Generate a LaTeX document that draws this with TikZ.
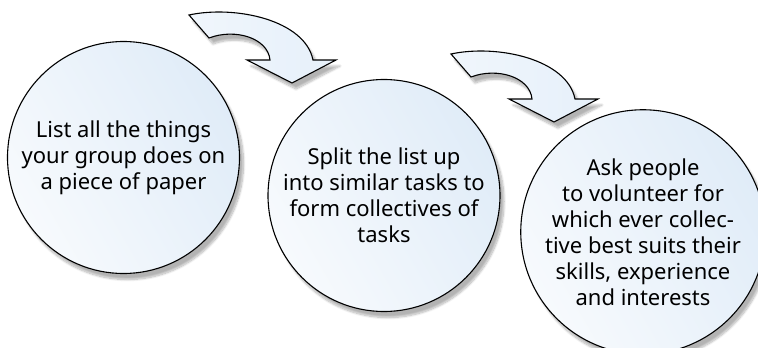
\documentclass[tikz,border=0pt]{standalone}
\usepackage{fontspec}
\setmainfont{Noto Sans}
\usetikzlibrary{shadows.blur}
\definecolor{lightc}{HTML}{F7FAFD}
\definecolor{bluec}{HTML}{E0ECF8}
\definecolor{arrowc}{HTML}{E6F0FA}
\begin{document}
\begin{tikzpicture}[x=1pt,y=-1pt,
  bubble/.style={circle, draw=black, line width=1.1pt, minimum size=232pt,
    inner sep=0pt, left color=lightc, right color=bluec, shading angle=120,
    blur shadow={shadow xshift=4pt, shadow yshift=-6pt, shadow blur steps=10, shadow opacity=30},
    align=center, font=\fontsize{22}{26}\selectfont},
  bentarrow/.style={draw=black, line width=1.1pt, left color=lightc!60!arrowc, right color=arrowc,
    blur shadow={shadow xshift=4pt, shadow yshift=-6pt, shadow blur steps=10, shadow opacity=30}}
]
\useasboundingbox (0,0) rectangle (758,348);
\node[bubble] (c1) at (123.5,157.5) {List all the things\\your group does on\\a piece of paper};
\node[bubble] (c2) at (384,195.5) {Split the list up\\into similar tasks to\\form collectives of\\tasks};
\node[bubble, minimum size=230pt] (c3) at (643,232) {Ask people\\to volunteer for\\which ever collec-\\tive best suits their\\skills, experience\\and interests};
\path[bentarrow] (189,15) .. controls (235,5) and (305,20) .. (313,60) -- (336,60) -- (292,83) -- (247,60) -- (270,60) .. controls (268,38) and (235,28) .. (209,38) -- cycle;
\begin{scope}[shift={(262,39)}]
\path[bentarrow] (189,15) .. controls (235,5) and (305,20) .. (313,60) -- (336,60) -- (292,83) -- (247,60) -- (270,60) .. controls (268,38) and (235,28) .. (209,38) -- cycle;
\end{scope}
\end{tikzpicture}
\end{document}
